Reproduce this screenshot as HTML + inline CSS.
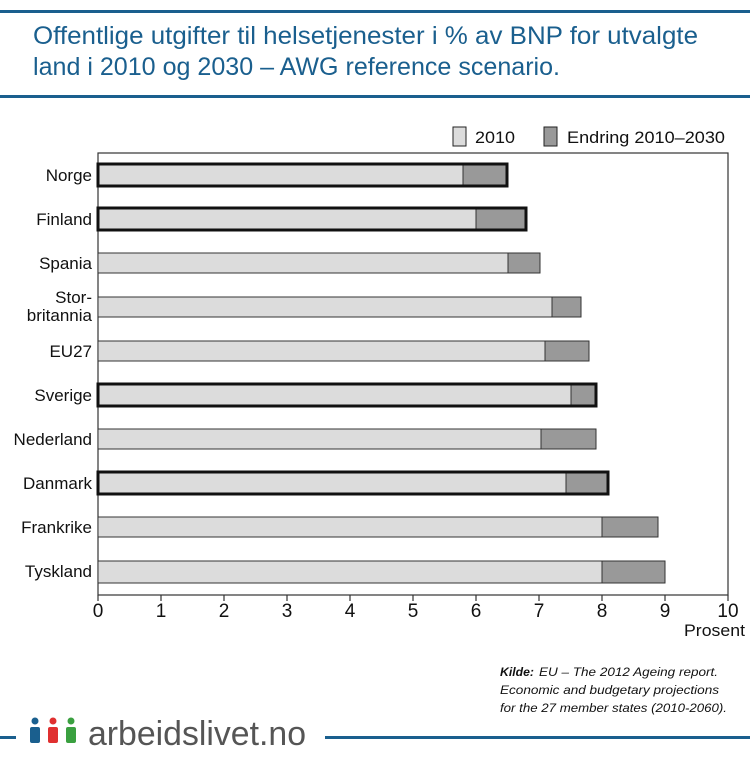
<!DOCTYPE html>
<html><head><meta charset="utf-8"><style>
body{margin:0;width:750px;height:752px;background:#fff;overflow:hidden;font-family:"Liberation Sans",sans-serif;}
</style></head><body>
<svg width="750" height="752" xmlns="http://www.w3.org/2000/svg" font-family="Liberation Sans, sans-serif">
<rect x="0" y="10" width="750" height="3" fill="#1a5f8e"/>
<rect x="0" y="95" width="750" height="3" fill="#1a5f8e"/>
<text x="33" y="44" font-size="25" fill="#1a5f8e" textLength="665" lengthAdjust="spacingAndGlyphs">Offentlige utgifter til helsetjenester i % av BNP for utvalgte</text>
<text x="33" y="75" font-size="25" fill="#1a5f8e" textLength="527" lengthAdjust="spacingAndGlyphs">land i 2010 og 2030 – AWG reference scenario.</text>
<rect x="453" y="127" width="13" height="19" fill="#dcdcdc" stroke="#222" stroke-width="1"/>
<text x="475" y="143" font-size="17" fill="#111" textLength="40" lengthAdjust="spacingAndGlyphs">2010</text>
<rect x="544" y="127" width="13" height="19" fill="#999" stroke="#222" stroke-width="1"/>
<text x="567" y="143" font-size="17" fill="#111" textLength="158" lengthAdjust="spacingAndGlyphs">Endring 2010–2030</text>
<rect x="98" y="153" width="630" height="442" fill="none" stroke="#333" stroke-width="1.2"/>

<g stroke="#333" stroke-width="1">
<rect x="98" y="165" width="365" height="20" fill="#dcdcdc"/><rect x="463" y="165" width="44" height="20" fill="#999"/>
<rect x="98" y="209" width="378" height="20" fill="#dcdcdc"/><rect x="476" y="209" width="50" height="20" fill="#999"/>
<rect x="98" y="253" width="410" height="20" fill="#dcdcdc"/><rect x="508" y="253" width="32" height="20" fill="#999"/>
<rect x="98" y="297" width="454" height="20" fill="#dcdcdc"/><rect x="552" y="297" width="29" height="20" fill="#999"/>
<rect x="98" y="341" width="447" height="20" fill="#dcdcdc"/><rect x="545" y="341" width="44" height="20" fill="#999"/>
<rect x="98" y="385" width="473" height="20" fill="#dcdcdc"/><rect x="571" y="385" width="25" height="20" fill="#999"/>
<rect x="98" y="429" width="443" height="20" fill="#dcdcdc"/><rect x="541" y="429" width="55" height="20" fill="#999"/>
<rect x="98" y="473" width="468" height="20" fill="#dcdcdc"/><rect x="566" y="473" width="42" height="20" fill="#999"/>
<rect x="98" y="517" width="504" height="20" fill="#dcdcdc"/><rect x="602" y="517" width="56" height="20" fill="#999"/>
<rect x="98" y="561" width="504" height="22" fill="#dcdcdc"/><rect x="602" y="561" width="63" height="22" fill="#999"/>
</g>
<g fill="none" stroke="#111" stroke-width="3">
<rect x="98" y="164" width="409" height="22"/>
<rect x="98" y="208" width="428" height="22"/>
<rect x="98" y="384" width="498" height="22"/>
<rect x="98" y="472" width="510" height="22"/>
</g>
<g font-size="17" fill="#111" text-anchor="end">
<text x="92" y="181">Norge</text>
<text x="92" y="225">Finland</text>
<text x="92" y="269">Spania</text>
<text x="92" y="303">Stor-</text><text x="92" y="321">britannia</text>
<text x="92" y="357">EU27</text>
<text x="92" y="401">Sverige</text>
<text x="92" y="445">Nederland</text>
<text x="92" y="489">Danmark</text>
<text x="92" y="533">Frankrike</text>
<text x="92" y="577">Tyskland</text>
</g>
<g stroke="#333" stroke-width="1.2">
<line x1="98" y1="595" x2="98" y2="601"/><line x1="161" y1="595" x2="161" y2="601"/><line x1="224" y1="595" x2="224" y2="601"/><line x1="287" y1="595" x2="287" y2="601"/><line x1="350" y1="595" x2="350" y2="601"/><line x1="413" y1="595" x2="413" y2="601"/><line x1="476" y1="595" x2="476" y2="601"/><line x1="539" y1="595" x2="539" y2="601"/><line x1="602" y1="595" x2="602" y2="601"/><line x1="665" y1="595" x2="665" y2="601"/><line x1="728" y1="595" x2="728" y2="601"/>
</g>
<g font-size="19" fill="#111" text-anchor="middle">
<text x="98" y="617">0</text><text x="161" y="617">1</text><text x="224" y="617">2</text><text x="287" y="617">3</text><text x="350" y="617">4</text><text x="413" y="617">5</text><text x="476" y="617">6</text><text x="539" y="617">7</text><text x="602" y="617">8</text><text x="665" y="617">9</text><text x="728" y="617">10</text>
</g>
<text x="745" y="636" font-size="17" fill="#111" text-anchor="end" textLength="61" lengthAdjust="spacingAndGlyphs">Prosent</text>
<g font-size="12" font-style="italic" fill="#111">
<text x="500" y="676" font-weight="bold" textLength="34" lengthAdjust="spacingAndGlyphs">Kilde:</text>
<text x="539" y="676" textLength="179" lengthAdjust="spacingAndGlyphs">EU – The 2012 Ageing report.</text>
<text x="500" y="694" textLength="219" lengthAdjust="spacingAndGlyphs">Economic and budgetary projections</text>
<text x="500" y="712" textLength="227" lengthAdjust="spacingAndGlyphs">for the 27 member states (2010-2060).</text>
</g>
<rect x="0" y="736" width="16" height="3" fill="#1a5f8e"/>
<rect x="325" y="736" width="425" height="3" fill="#1a5f8e"/>
<circle cx="35" cy="721" r="3.5" fill="#1a5f8e"/><rect x="30" y="727" width="10" height="16" rx="2" fill="#1a5f8e"/>
<circle cx="53" cy="721" r="3.5" fill="#e03030"/><rect x="48" y="727" width="10" height="16" rx="2" fill="#e03030"/>
<circle cx="71" cy="721" r="3.5" fill="#3aa040"/><rect x="66" y="727" width="10" height="16" rx="2" fill="#3aa040"/>
<text x="88" y="745" font-size="34" fill="#555" textLength="218" lengthAdjust="spacingAndGlyphs">arbeidslivet.no</text>
</svg>
</body></html>
